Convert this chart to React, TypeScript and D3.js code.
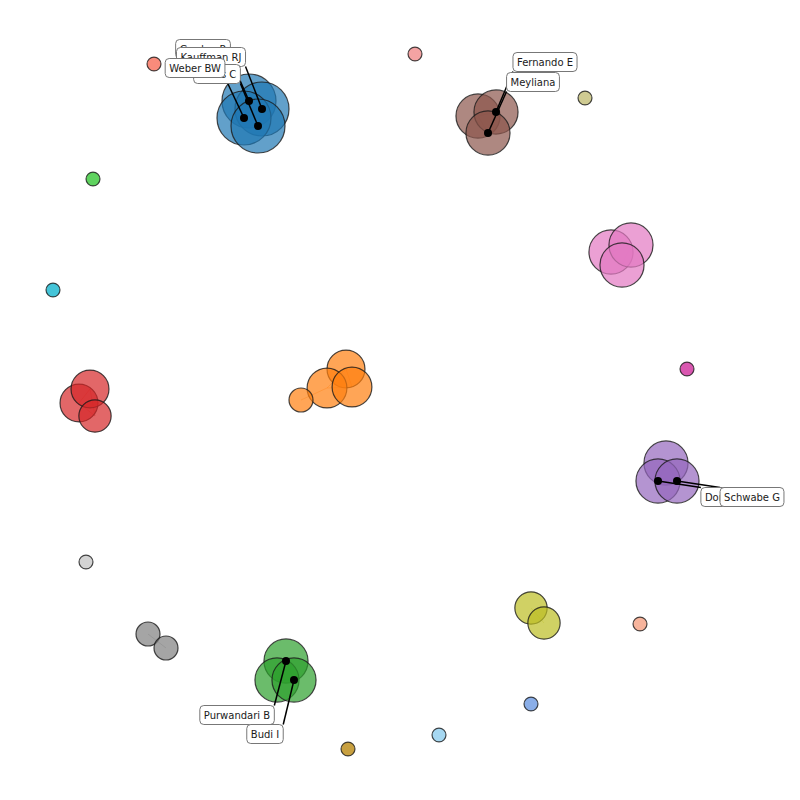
import { useEffect, useRef } from "react";
import * as d3 from "d3";

// cluster colours (tab10 style), singletons get their own
const groupColors: Record<string, string> = {
  blue: "#1f77b4",
  orange: "#ff7f0e",
  green: "#2ca02c",
  red: "#d62728",
  purple: "#9467bd",
  brown: "#8c564b",
  pink: "#e377c2",
  gray: "#7f7f7f",
  olive: "#bcbd22",
};

// node layout positions, node weight, group
const nodeIds = [
  "b1", "b2", "b3", "b4",
  "br1", "br2", "br3",
  "p1", "p2", "p3",
  "o1", "o2", "o3", "o4",
  "r1", "r2", "r3",
  "pu1", "pu2", "pu3",
  "y1", "y2",
  "g1", "g2",
  "gr1", "gr2", "gr3",
  "s1", "s2", "s3", "s4", "s5", "s6", "s7", "s8", "s9", "s10", "s11",
];
const nodeX = [
  249, 262, 244, 258,
  478, 496, 488,
  611, 631, 622,
  346, 327, 352, 301,
  79, 90, 95,
  666, 658, 677,
  531, 544,
  148, 166,
  286, 277, 294,
  154, 415, 585, 93, 53, 687, 86, 640, 531, 439, 348,
];
const nodeY = [
  101, 109, 118, 126,
  116, 112, 133,
  252, 245, 265,
  369, 388, 387, 400,
  403, 389, 416,
  463, 481, 481,
  608, 623,
  634, 648,
  661, 680, 680,
  64, 54, 98, 179, 290, 369, 562, 624, 704, 735, 749,
];
const nodeWeight = [
  81, 81, 81, 81,
  54, 54, 54,
  54, 54, 54,
  40, 44, 44, 16,
  40, 40, 29,
  54, 54, 54,
  29, 29,
  16, 16,
  54, 54, 54,
  5.4, 5.4, 5.4, 5.4, 5.4, 5.4, 5.4, 5.4, 5.4, 5.4, 5.4,
];
const nodeGroup = [
  "blue", "blue", "blue", "blue",
  "brown", "brown", "brown",
  "pink", "pink", "pink",
  "orange", "orange", "orange", "orange",
  "red", "red", "red",
  "purple", "purple", "purple",
  "olive", "olive",
  "gray", "gray",
  "green", "green", "green",
  "#f98b7b", "#f4a3a3", "#cfcb92", "#5fd35f", "#44c4d8", "#d957b0",
  "#d3d3d3", "#f7b49c", "#8aaee8", "#a6d8f2", "#c8a040",
];

// co-author links inside each cluster
const edgeSource = ["b1", "b1", "b1", "b2", "b2", "b3", "br1", "br1", "br2", "p1", "p1", "p2",
  "o4", "o2", "o2", "o1", "r1", "r1", "r2", "pu1", "pu1", "pu2", "y1", "g1", "gr1", "gr1", "gr2"];
const edgeTarget = ["b2", "b3", "b4", "b3", "b4", "b4", "br2", "br3", "br3", "p2", "p3", "p3",
  "o2", "o3", "o1", "o3", "r2", "r3", "r3", "pu2", "pu3", "pu3", "y2", "g2", "gr2", "gr3", "gr3"];

// annotated authors: name, node, label box position
const labelNames = ["Gordon R", "Kauffman RJ", "Lucas C", "Weber BW",
  "Fernando E", "Meyliana", "Dorn J", "Schwabe G", "Purwandari B", "Budi I"];
const labelNode = ["b1", "b2", "b4", "b3", "br2", "br3", "pu2", "pu3", "gr1", "gr3"];
const labelX = [203, 211, 217, 195, 545, 533, 720, 752, 237, 265];
const labelY = [49, 57, 74, 68, 62, 82, 497, 497, 715, 734];

export default function App() {
  const ref = useRef<SVGSVGElement>(null);

  useEffect(() => {
    document.body.style.margin = "0";
    const width = 800;
    const height = 800;

    const x = d3.scaleLinear().domain([0, 800]).range([0, width]);
    const y = d3.scaleLinear().domain([0, 800]).range([0, height]);
    const r = d3.scaleSqrt().domain([0, 100]).range([0, 30]);

    const nodes = nodeIds.map((id, i) => ({
      id, x: nodeX[i], y: nodeY[i], w: nodeWeight[i], g: nodeGroup[i],
    }));
    const byId = new Map(nodes.map((n) => [n.id, n]));
    const color = (g: string) => groupColors[g] || g;
    const single = (g: string) => !groupColors[g];

    const svg = d3.select(ref.current);
    svg.selectAll("*").remove();

    svg.append("g")
      .selectAll("line")
      .data(edgeSource.map((s, i) => [byId.get(s)!, byId.get(edgeTarget[i])!]))
      .join("line")
      .attr("x1", (d) => x(d[0].x))
      .attr("y1", (d) => y(d[0].y))
      .attr("x2", (d) => x(d[1].x))
      .attr("y2", (d) => y(d[1].y))
      .attr("stroke", (d) => color(d[0].g))
      .attr("stroke-opacity", 0.35)
      .attr("stroke-width", 1);

    svg.append("g")
      .selectAll("circle")
      .data(nodes)
      .join("circle")
      .attr("cx", (d) => x(d.x))
      .attr("cy", (d) => y(d.y))
      .attr("r", (d) => r(d.w))
      .attr("fill", (d) => color(d.g))
      .attr("fill-opacity", (d) => (single(d.g) ? 1 : 0.7))
      .attr("stroke", "#1a1a1a")
      .attr("stroke-opacity", 0.8)
      .attr("stroke-width", 1.2);

    const labels = labelNames.map((name, i) => ({
      name, node: byId.get(labelNode[i])!, lx: labelX[i], ly: labelY[i],
    }));

    // black marker on labelled nodes
    svg.append("g")
      .selectAll("circle")
      .data(labels)
      .join("circle")
      .attr("cx", (d) => x(d.node.x))
      .attr("cy", (d) => y(d.node.y))
      .attr("r", 4)
      .attr("fill", "black");

    const lg = svg.append("g")
      .attr("font-family", "DejaVu Sans")
      .attr("font-size", 10);

    const boxH = 19;

    // leader lines from the nearest box edge to the node
    labels.forEach((d) => {
      const t = lg.append("text")
        .attr("x", x(d.lx))
        .attr("y", y(d.ly))
        .attr("text-anchor", "middle")
        .text(d.name);
      const bb = (t.node() as SVGTextElement).getBBox();
      t.remove();
      const bx0 = bb.x - 4, bx1 = bb.x + bb.width + 4;
      const by0 = y(d.ly) - boxH / 2, by1 = y(d.ly) + boxH / 2;
      const nx = x(d.node.x), ny = y(d.node.y);
      lg.append("line")
        .attr("x1", Math.max(bx0, Math.min(bx1, nx)))
        .attr("y1", Math.max(by0, Math.min(by1, ny)))
        .attr("x2", nx)
        .attr("y2", ny)
        .attr("stroke", "black")
        .attr("stroke-width", 1.5);
    });

    labels.forEach((d) => {
      const grp = lg.append("g");
      const rect = grp.append("rect");
      const t = grp.append("text")
        .attr("x", x(d.lx))
        .attr("y", y(d.ly))
        .attr("text-anchor", "middle")
        .attr("dominant-baseline", "central")
        .attr("fill", "#1a1a1a")
        .text(d.name);
      const bb = (t.node() as SVGTextElement).getBBox();
      rect.attr("x", bb.x - 4)
        .attr("y", y(d.ly) - boxH / 2)
        .attr("width", bb.width + 8)
        .attr("height", boxH)
        .attr("rx", 4)
        .attr("fill", "white")
        .attr("stroke", "#777")
        .attr("stroke-width", 1);
    });
  }, []);

  return <svg ref={ref} width={800} height={800} style={{ display: "block" }} />;
}
